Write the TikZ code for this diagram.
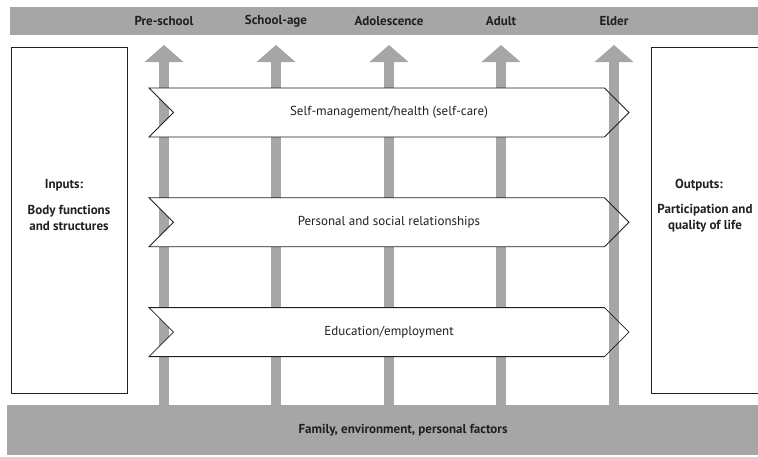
\documentclass[tikz,border=0pt]{standalone}
\usepackage{fontspec}
\setmainfont{PT Sans}
\usepackage{xcolor}
\usetikzlibrary{shapes.symbols,arrows.meta,positioning}
\definecolor{bargray}{RGB}{166,166,166}
\definecolor{inkdark}{RGB}{35,31,32}
\tikzset{
  bar/.style={rectangle, fill=bargray, inner sep=0pt, anchor=north west},
  stage/.style={font=\fontsize{13}{15}\selectfont\bfseries\color{inkdark}},
  sidebox/.style={rectangle, draw=inkdark, line width=0.8pt,
    minimum width=116pt, minimum height=346pt, inner sep=0pt,
    anchor=north west},
  boxlbl/.style={align=center, font=\fontsize{13}{16}\selectfont\bfseries\color{inkdark}},
  banner/.style={signal, signal to=east, signal from=west,
    signal pointer angle=90, draw=inkdark, line width=0.8pt,
    minimum width=480pt, minimum height=49pt, inner sep=0pt,
    font=\fontsize{13}{15}\selectfont\color{inkdark},
    path picture={\fill[white] (path picture bounding box.south west)
      rectangle ([xshift=-24pt]path picture bounding box.north east);}},
  lifearr/.style={draw=bargray, line width=10pt,
    -{Triangle[width=39pt, length=17pt, line width=0pt]}}
}
\begin{document}
\begin{tikzpicture}[x=1pt, y=1pt]
\useasboundingbox (0,0) rectangle (758,-456);

%% Life stages
\node[bar, minimum width=780pt, minimum height=28pt] (stagebar) at (10,-7) {};
\node[stage] (pre)   at (164,-21) {Pre-school};
\node[stage] (sch)   at (276,-21) {School-age};
\node[stage] (ado)   at (389,-21) {Adolescence};
\node[stage] (adult) at (501,-21) {Adult};
\node[stage] (elder) at (614,-21) {Elder};

%% Context
\node[bar, minimum width=800pt, minimum height=50pt] (context) at (7,-405) {};
\node[stage] (factors) at (403,-430) {Family, environment, personal factors};

%% Stage arrows
\coordinate (pretip)   at (164,-45);
\coordinate (schtip)   at (276,-45);
\coordinate (adotip)   at (389,-45);
\coordinate (adulttip) at (501,-45);
\coordinate (eldertip) at (614,-45);
\draw[lifearr] (pretip |- context.north)--(pretip);
\draw[lifearr] (schtip |- context.north)--(schtip);
\draw[lifearr] (adotip |- context.north)--(adotip);
\draw[lifearr] (adulttip |- context.north)--(adulttip);
\draw[lifearr] (eldertip |- context.north)--(eldertip);

%% Domains
\node[banner] (selfcare) at (389,-112.5) {Self-management/health (self-care)};
\node[banner, below=60pt of selfcare] (social) {Personal and social relationships};
\node[banner, below=60pt of social]   (educ)   {Education/employment};

%% Inputs and outputs
\node[sidebox] (inputs)  at (11,-47)  {};
\node[sidebox] (outputs) at (651,-47) {};
\node[boxlbl] (inhead)  at (64,-185)  {Inputs:};
\node[boxlbl] (inbody)  at (69,-218)  {Body functions\\and structures};
\node[boxlbl] (outhead) at (699,-185) {Outputs:};
\node[boxlbl] (outbody) at (705,-218) {Participation and\\quality of life};

\end{tikzpicture}
\end{document}
